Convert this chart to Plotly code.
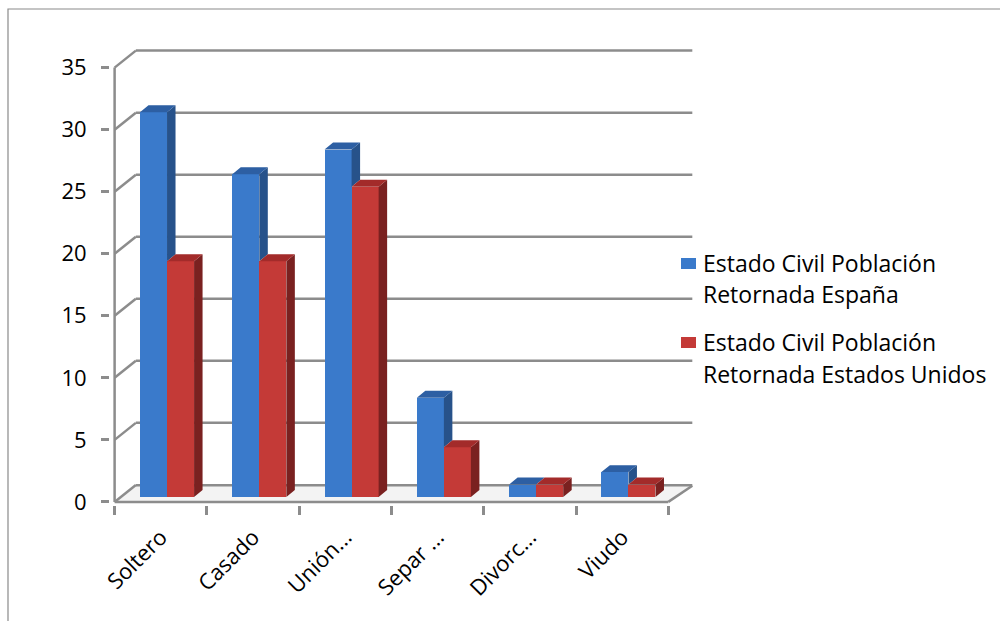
import plotly.graph_objects as go

# Estado civil de la población retornada (porcentajes)
categorias = ["Soltero", "Casado", "Unión...", "Separ ...", "Divorc...", "Viudo"]
espana = [31, 26, 28, 8, 1, 2]
estados_unidos = [19, 19, 25, 4, 1, 1]
ticks_y = [0, 5, 10, 15, 20, 25, 30, 35]
serie_1 = "Estado Civil Población"
serie_1b = "Retornada España"
serie_2 = "Estado Civil Población"
serie_2b = "Retornada Estados Unidos"

# Canvas and plot-area geometry
W, H = 1000, 621
M_L, M_R, M_T, M_B = 110, 304, 49, 116
X_RANGE = [-0.55, 5.8]
Y_RANGE = [-0.25, 36.5]
PW = W - M_L - M_R
PH = H - M_T - M_B

# pseudo-3D offsets in data units
WALL_DX, WALL_DY = 0.23, 1.37        # back wall vs. front plane
FLOOR_DX_R = 0.26                    # right end of the floor
BAR_BASE = 0.4                       # bars stand mid-depth on the floor
BAR_W = 0.293
OFF_1 = -0.225
OFF_2 = OFF_1 + BAR_W
DEP_DX, DEP_DY = 0.092, 0.56         # bar depth

GRID = "#8c8c8c"
FONT = "Open Sans"

C1 = dict(front="#3a7acb", side="#27528a", top="#2d5fa3")
C2 = dict(front="#c43a37", side="#7a2120", top="#a32b2a")


def px_to_paper(px, py):
    return (px - M_L) / PW, (H - M_B - py) / PH


fig = go.Figure()

n = len(categorias)
xs = list(range(n))

# front faces
fig.add_trace(go.Bar(x=xs, y=espana, base=[BAR_BASE] * n, width=BAR_W, offset=OFF_1,
                     marker=dict(color=C1["front"], line=dict(width=0)),
                     name=serie_1 + " " + serie_1b, showlegend=False))
fig.add_trace(go.Bar(x=xs, y=estados_unidos, base=[BAR_BASE] * n, width=BAR_W, offset=OFF_2,
                     marker=dict(color=C2["front"], line=dict(width=0)),
                     name=serie_2 + " " + serie_2b, showlegend=False))


def top_face(x0, x1, h):
    return ([x0, x1, x1 + DEP_DX, x0 + DEP_DX, x0, None],
            [h, h, h + DEP_DY, h + DEP_DY, h, None])


def side_face(x1, lo, hi):
    return ([x1, x1 + DEP_DX, x1 + DEP_DX, x1, x1, None],
            [lo, lo + DEP_DY, hi + DEP_DY, hi, lo, None])


def poly_trace(px, py, color):
    return go.Scatter(x=px, y=py, mode="lines", fill="toself", fillcolor=color,
                      line=dict(width=0, color=color), hoverinfo="skip", showlegend=False)


# blue tops and the part of the blue side face above the red bar
bt_x, bt_y, bs_x, bs_y = [], [], [], []
for i, (v1, v2) in enumerate(zip(espana, estados_unidos)):
    x0 = i + OFF_1
    x1 = x0 + BAR_W
    tx, ty = top_face(x0, x1, BAR_BASE + v1)
    bt_x += tx
    bt_y += ty
    if v1 > v2:
        sx, sy = side_face(x1, BAR_BASE + v2, BAR_BASE + v1)
        bs_x += sx
        bs_y += sy
fig.add_trace(poly_trace(bs_x, bs_y, C1["side"]))
fig.add_trace(poly_trace(bt_x, bt_y, C1["top"]))

# red tops and sides
rt_x, rt_y, rs_x, rs_y = [], [], [], []
for i, v2 in enumerate(estados_unidos):
    x0 = i + OFF_2
    x1 = x0 + BAR_W
    tx, ty = top_face(x0, x1, BAR_BASE + v2)
    rt_x += tx
    rt_y += ty
    sx, sy = side_face(x1, BAR_BASE, BAR_BASE + v2)
    rs_x += sx
    rs_y += sy
fig.add_trace(poly_trace(rs_x, rs_y, C2["side"]))
fig.add_trace(poly_trace(rt_x, rt_y, C2["top"]))

shapes = []
x_left, x_right = -0.5, n - 0.5

# floor slab
shapes.append(dict(type="path", xref="x", yref="y", layer="below",
                   path=f"M {x_left},0 L {x_right},0 L {x_right + FLOOR_DX_R},{WALL_DY * 0.95} "
                        f"L {x_left + WALL_DX},{WALL_DY} Z",
                   fillcolor="#f3f3f3", line=dict(width=0)))

# back-wall gridlines with their left-wall connectors
for v in ticks_y:
    yb = v + WALL_DY if v else WALL_DY * 0.95 + 0.05
    shapes.append(dict(type="line", xref="x", yref="y", layer="below",
                       x0=x_left + WALL_DX, x1=x_right + FLOOR_DX_R, y0=yb, y1=yb,
                       line=dict(color=GRID, width=2.5)))
    shapes.append(dict(type="line", xref="x", yref="y", layer="below",
                       x0=x_left, y0=v, x1=x_left + WALL_DX, y1=v + WALL_DY,
                       line=dict(color=GRID, width=2.5)))

# front axes
shapes.append(dict(type="line", xref="x", yref="y", layer="above",
                   x0=x_left, x1=x_left, y0=0, y1=ticks_y[-1],
                   line=dict(color=GRID, width=2.5)))
shapes.append(dict(type="line", xref="x", yref="y", layer="above",
                   x0=x_left, x1=x_right, y0=0, y1=0,
                   line=dict(color=GRID, width=2.5)))
shapes.append(dict(type="line", xref="x", yref="y", layer="above",
                   x0=x_right, x1=x_right + FLOOR_DX_R, y0=0, y1=WALL_DY * 0.95,
                   line=dict(color=GRID, width=2.5)))

# outer frame
fx0, fy0 = px_to_paper(8, 9)
fx1, fy1 = px_to_paper(1010, 640)
shapes.append(dict(type="rect", xref="paper", yref="paper",
                   x0=fx0, y0=fy1, x1=fx1, y1=fy0,
                   line=dict(color="#8a8a8a", width=1.2), fillcolor="rgba(0,0,0,0)"))

# legend swatches and text
annotations = []
legend_items = [
    (C1["front"], serie_1, serie_1b, 263, 294),
    (C2["front"], serie_2, serie_2b, 342, 374),
]
for color, line1, line2, y1, y2 in legend_items:
    sx0, sy0 = px_to_paper(681, y1 - 5)
    sx1, sy1 = px_to_paper(696, y1 + 6)
    shapes.append(dict(type="rect", xref="paper", yref="paper",
                       x0=sx0, x1=sx1, y0=sy1, y1=sy0,
                       fillcolor=color, line=dict(width=0)))
    for txt, yy in ((line1, y1), (line2, y2)):
        ax, ay = px_to_paper(701, yy)
        annotations.append(dict(text=txt, xref="paper", yref="paper", x=ax, y=ay,
                                xanchor="left", yanchor="middle", showarrow=False,
                                font=dict(family=FONT, size=23, color="#000000")))

fig.update_layout(
    width=W, height=H,
    margin=dict(l=M_L, r=M_R, t=M_T, b=M_B, pad=0),
    paper_bgcolor="white", plot_bgcolor="white",
    barmode="overlay", bargap=0,
    showlegend=False,
    shapes=shapes, annotations=annotations,
    xaxis=dict(range=X_RANGE, tickmode="array", tickvals=xs, ticktext=categorias,
               tickangle=-45, ticks="", showgrid=False, zeroline=False, showline=False,
               ticklabelstandoff=14,
               tickfont=dict(family=FONT, size=22, color="#000000"),
               minor=dict(tickmode="array", tickvals=[i - 0.5 for i in range(n + 1)],
                          ticks="outside", ticklen=9, tickwidth=2.5, tickcolor=GRID,
                          showgrid=False)),
    yaxis=dict(range=Y_RANGE, tickmode="array", tickvals=ticks_y,
               ticks="outside", ticklen=8, tickwidth=2.5, tickcolor=GRID,
               showgrid=False, zeroline=False, showline=False,
               ticklabelstandoff=10,
               tickfont=dict(family=FONT, size=22, color="#000000")),
)

fig.write_html("out.html")
